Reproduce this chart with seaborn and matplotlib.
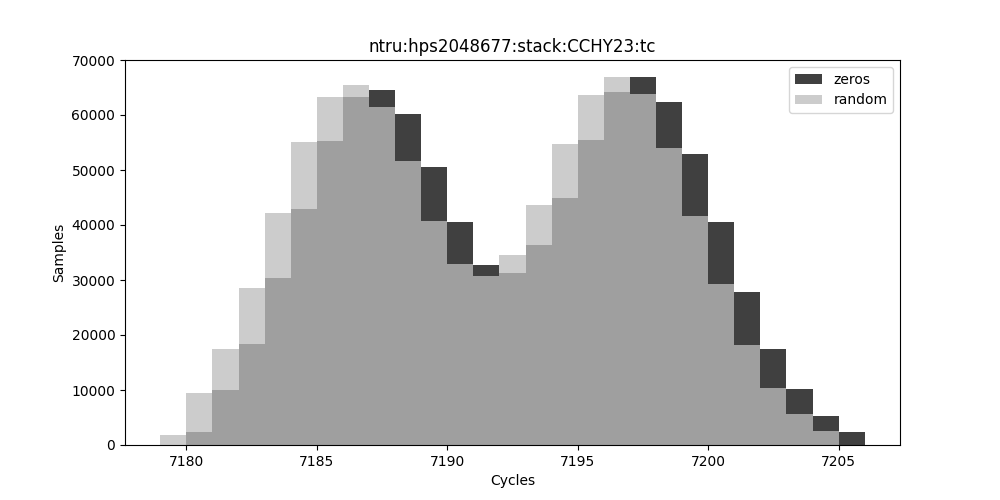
import matplotlib
matplotlib.use("Agg")
import matplotlib.pyplot as plt
import pandas as pd
import seaborn as sns

# cycle bins (left edges) and sample counts
cycles = list(range(7179, 7206))
zeros = [0, 2300, 10000, 18300, 30300, 43000, 55300, 63300, 64500, 60200,
         50600, 40500, 32700, 31300, 36300, 45000, 55500, 64200, 67000, 62400,
         52900, 40600, 27900, 17500, 10100, 5300, 2300]
random_ = [1800, 9500, 17500, 28600, 42200, 55100, 63200, 65500, 61500, 51700,
           40700, 33000, 30700, 34600, 43600, 54800, 63700, 67000, 63900, 54000,
           41600, 29200, 18100, 10400, 5600, 2600, 0]

df = pd.DataFrame({"cycles": cycles, "zeros": zeros, "random": random_})
rng = (cycles[0], cycles[-1] + 1)

fig, ax = plt.subplots(figsize=(10, 5), dpi=100)
sns.histplot(data=df, x="cycles", weights="zeros", binwidth=1, binrange=rng,
             color="black", alpha=0.75, linewidth=0, label="zeros", ax=ax)
sns.histplot(data=df, x="cycles", weights="random", binwidth=1, binrange=rng,
             color="#bdbdbd", alpha=0.77, linewidth=0, label="random", ax=ax)

ax.set_title("ntru:hps2048677:stack:CCHY23:tc")
ax.set_xlabel("Cycles")
ax.set_ylabel("Samples")
ax.set_ylim(0, 70000)
ax.legend(loc="upper right")
fig.savefig("out.png")
